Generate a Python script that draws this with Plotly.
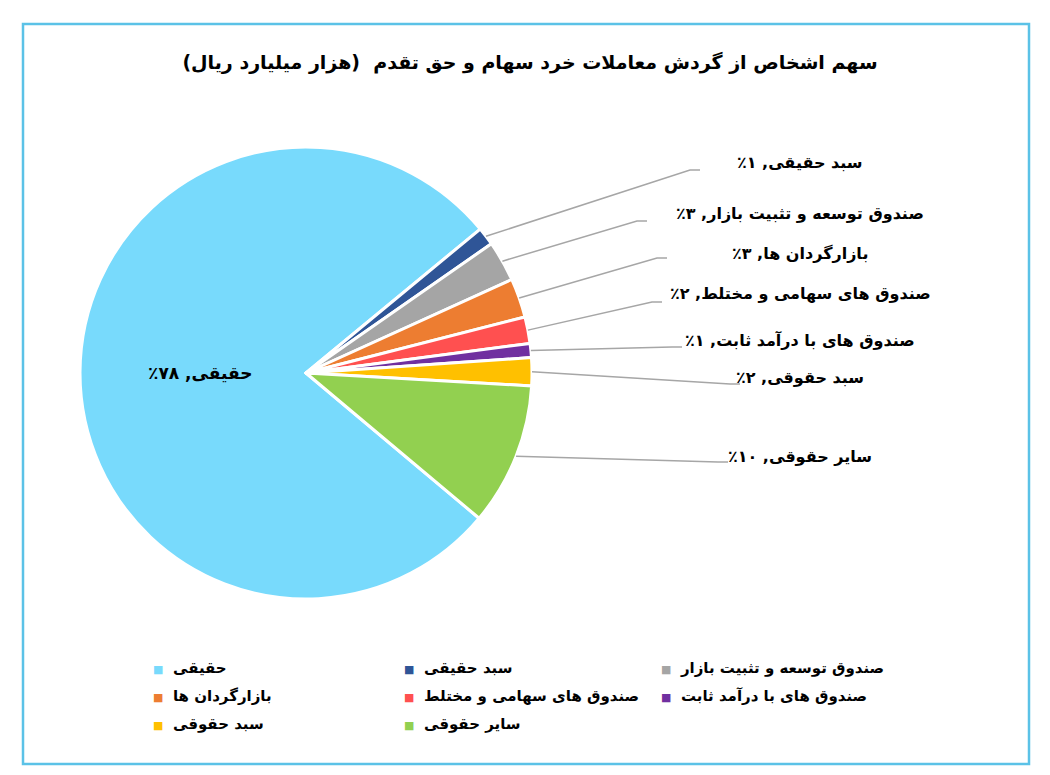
import math
import plotly.graph_objects as go

# سهم هر گروه از گردش معاملات (درصد)
categories = ['حقیقی', 'سبد حقیقی', 'صندوق توسعه و تثبیت بازار', 'بازارگردان ها',
              'صندوق های سهامی و مختلط', 'صندوق های با درآمد ثابت', 'سبد حقوقی', 'سایر حقوقی']
shares = [77.9, 1.3, 2.9, 2.8, 1.9, 1.0, 2.0, 10.2]
colors = ['#78DAFC', '#2F5597', '#A5A5A5', '#ED7D31', '#FF5050', '#7030A0', '#FFC000', '#92D050']

title_text = 'سهم اشخاص از گردش معاملات خرد سهام و حق تقدم  (هزار میلیارد ریال)'

# صفحه مرورگر 8 پیکسل حاشیه دارد
PAGE_W, PAGE_H, OFF = 1050, 775, 8
W, H = PAGE_W - 2 * OFF, PAGE_H - 2 * OFF
FONT = 'DejaVu Sans'

# جای دایره (پیکسل صفحه)
cx, cy, r = 306, 373, 226
rotation = 130

# جای برچسب های بیرونی (پیکسل صفحه) برای برش های کوچک
label_x = 800
label_y = [163, 213, 253, 293, 340, 378, 457]
line_end_x = [700, 647, 667, 662, 682, 740, 728]
line_end_y = [170, 221, 258, 302, 347, 384, 462]

# جای راهنما (سه ستون)
legend_col_x = [151, 402, 659]
legend_row_y = [668, 696, 724]

FA_DIGITS = str.maketrans('0123456789', '۰۱۲۳۴۵۶۷۸۹')
RLM = '\u200f'


def px(x, y):
    return (x - OFF) / W, 1 - (y - OFF) / H


def mid_angle(i):
    total = sum(shares)
    frac = (sum(shares[:i]) + shares[i] / 2) / total
    return math.radians(rotation + 360 * frac)


def label_text(i):
    pct = str(round(shares[i] * 100 / sum(shares))).translate(FA_DIGITS)
    return RLM + categories[i] + ', ' + pct + '٪' + RLM


fig = go.Figure()

x0, y1 = px(cx - r, cy - r)
x1, y0 = px(cx + r, cy + r)
fig.add_trace(go.Pie(
    labels=categories,
    values=shares,
    sort=False,
    direction='clockwise',
    rotation=rotation,
    marker=dict(colors=colors, line=dict(color='white', width=3)),
    textinfo='none',
    hoverinfo='label+percent',
    domain=dict(x=[x0, x1], y=[y0, y1]),
    showlegend=False,
))

annotations = []
shapes = []

# برچسب برش بزرگ داخل دایره
a = mid_angle(0)
bx, by = px(cx + 0.47 * r * math.sin(a), cy - 0.47 * r * math.cos(a))
annotations.append(dict(x=bx, y=by, xref='paper', yref='paper', text='<b>' + label_text(0) + '</b>',
                        showarrow=False, xanchor='center', yanchor='middle',
                        font=dict(family=FONT, size=17, color='black')))

# برچسب های بیرونی با خط راهنما
for k in range(1, len(categories)):
    a = mid_angle(k)
    sx, sy = cx + r * math.sin(a), cy - r * math.cos(a)
    ex, ey = line_end_x[k - 1], line_end_y[k - 1]
    p0 = px(sx, sy)
    p1 = px(ex - 10, ey)
    p2 = px(ex, ey)
    shapes.append(dict(type='path', xref='paper', yref='paper',
                       path=f'M {p0[0]},{p0[1]} L {p1[0]},{p1[1]} L {p2[0]},{p2[1]}',
                       line=dict(color='#A6A6A6', width=1.5)))
    lx, ly = px(label_x, label_y[k - 1])
    annotations.append(dict(x=lx, y=ly, xref='paper', yref='paper', text='<b>' + label_text(k) + '</b>',
                            showarrow=False, xanchor='center', yanchor='middle',
                            font=dict(family=FONT, size=16, color='black')))

# راهنما: مربع رنگی و نام هر گروه
for i, (name, c) in enumerate(zip(categories, colors)):
    gx, gy = px(legend_col_x[i % 3], legend_row_y[i // 3])
    annotations.append(dict(x=gx, y=gy, xref='paper', yref='paper', showarrow=False,
                            xanchor='left', yanchor='middle',
                            text=f'<span style="color:{c};font-size:11px">■</span>&nbsp;&nbsp;<b>{name}</b>',
                            font=dict(family=FONT, size=15, color='black')))

# قاب دور نمودار
bx0, by1 = px(23, 24)
bx1, by0 = px(1029, 764)
shapes.append(dict(type='rect', xref='paper', yref='paper', x0=bx0, y0=by0, x1=bx1, y1=by1,
                   line=dict(color='#5BC2E7', width=2.5), fillcolor='rgba(0,0,0,0)'))

tx, ty = px(530, 62)
fig.update_layout(
    width=W, height=H,
    margin=dict(l=0, r=0, t=0, b=0),
    paper_bgcolor='white',
    title=dict(text='<b>' + RLM + title_text + RLM + '</b>', x=tx, y=ty, xanchor='center', yanchor='middle',
               font=dict(family=FONT, size=19, color='black')),
    annotations=annotations,
    shapes=shapes,
    showlegend=False,
)

fig.write_html('out.html')
